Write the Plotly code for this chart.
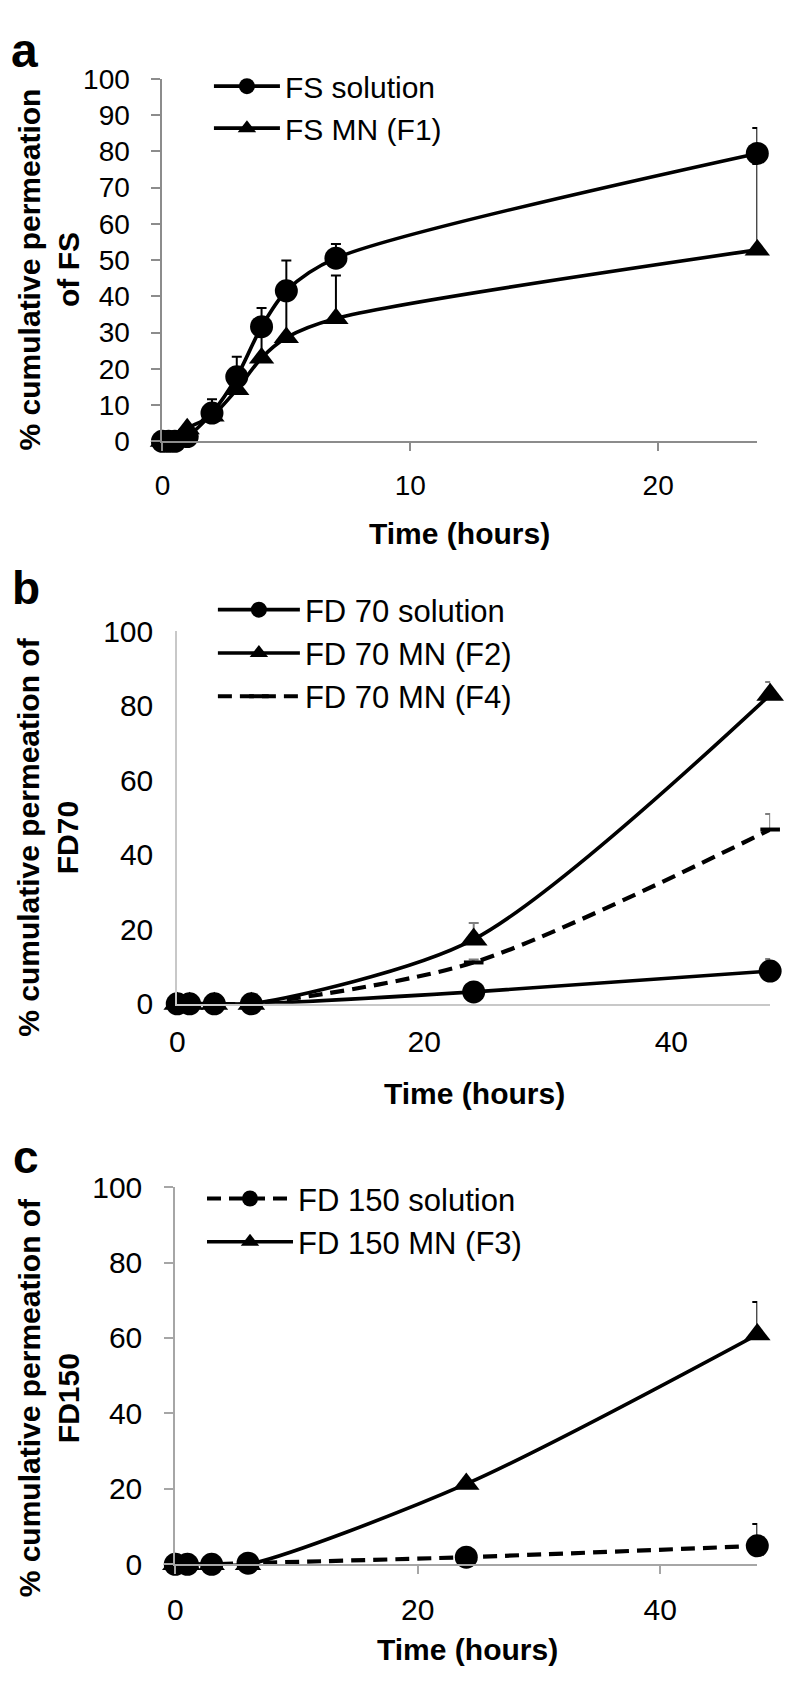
import plotly.graph_objects as go

# ---------------- data ----------------
# Panel a: FS
t_a = [0, 0.25, 0.5, 1, 2, 3, 4, 5, 7, 24]
fs_solution = [0, 0, 0, 1.3, 7.8, 17.8, 31.6, 41.5, 50.5, 79.4]
fs_solution_err = [0, 0, 0, 0, 3.8, 5.5, 5.2, 8.4, 3.9, 7.0]
fs_mn_f1 = [0, 0, 0, 3.5, 7.0, 14.3, 23.0, 28.6, 33.9, 52.8]
fs_mn_f1_err = [0, 0, 0, 0, 2.0, 4.0, 11.0, 12.0, 11.8, 23.7]

# Panel b: FD70
t_b = [0, 1, 3, 6, 24, 48]
fd70_solution = [0, 0, 0, 0, 3.2, 8.8]
fd70_solution_err = [0, 0, 0, 0, 0, 3.2]
fd70_mn_f2 = [0, 0, 0, 0, 17.3, 83.0]
fd70_mn_f2_err = [0, 0, 0, 0, 4.4, 3.4]
fd70_mn_f4 = [0, 0, 0, 0, 11.1, 46.8]
fd70_mn_f4_err = [0, 0, 0, 0, 0.8, 4.2]

# Panel c: FD150
t_c = [0, 1, 3, 6, 24, 48]
fd150_solution = [0, 0, 0, 0.3, 1.9, 4.9]
fd150_solution_err = [0, 0, 0, 0, 0, 5.8]
fd150_mn_f3 = [0, 0, 0, 0, 21.3, 60.9]
fd150_mn_f3_err = [0, 0, 0, 0, 0, 8.6]

W, H = 786, 1695
FONT = "Liberation Sans, Arial, sans-serif"
DASH = "14px,8px"


def px(x):
    return x / W


def py(y):
    return 1 - y / H


fig = go.Figure()


def add(x, y, err, name, symbol, xa, ya, legend, dash="solid", msize=23,
        errcolor="black", mline=0, lw=3.6):
    fig.add_trace(go.Scatter(
        x=x, y=y, name=name, mode="lines+markers",
        xaxis=xa, yaxis=ya, legend=legend, legendgroup=name,
        line=dict(color="black", width=lw, dash=dash, shape="spline", smoothing=0.8),
        marker=dict(symbol=symbol, size=msize, color="black",
                    line=dict(color="black", width=mline)),
        error_y=dict(type="data", array=err, arrayminus=[0] * len(err), symmetric=False,
                     color=errcolor, thickness=2, width=5),
        cliponaxis=False,
    ))


# panel a
add(t_a, fs_solution, fs_solution_err, "FS solution", "circle", "x", "y", "legend")
add(t_a, fs_mn_f1, fs_mn_f1_err, "FS MN (F1)", "triangle-up", "x", "y", "legend", msize=22)

# panel b
GRAY_ERR = "#7f7f7f"
add(t_b, fd70_solution, fd70_solution_err, "FD 70 solution", "circle", "x2", "y2", "legend2",
    errcolor=GRAY_ERR)
add(t_b, fd70_mn_f2, fd70_mn_f2_err, "FD 70 MN (F2)", "triangle-up", "x2", "y2", "legend2",
    msize=24, errcolor=GRAY_ERR)
add(t_b, fd70_mn_f4, fd70_mn_f4_err, "FD 70 MN (F4)", "line-ew", "x2", "y2", "legend2",
    dash=DASH, msize=14, mline=4, errcolor=GRAY_ERR, lw=4.2)

# panel c
add(t_c, fd150_solution, fd150_solution_err, "FD 150 solution", "circle", "x3", "y3", "legend3",
    dash=DASH, lw=4.2)
add(t_c, fd150_mn_f3, fd150_mn_f3_err, "FD 150 MN (F3)", "triangle-up", "x3", "y3", "legend3",
    msize=23)

tick_font_a = dict(family=FONT, size=28, color="black")
tick_font_bc = dict(family=FONT, size=30, color="black")


def xaxis(dom, rng, dtick, color, ticks, font, anchor):
    return dict(domain=dom, range=rng, dtick=dtick, tick0=0, showgrid=False, zeroline=False,
                showline=True, linecolor=color, linewidth=2, ticks=ticks, ticklen=8,
                tickwidth=2, tickcolor=color, tickfont=font, anchor=anchor,
                ticklabelstandoff=10)


def yaxis(dom, dtick, color, ticks, font, anchor):
    return dict(domain=dom, range=[0, 100], dtick=dtick, tick0=0, showgrid=False,
                zeroline=False, showline=True, linecolor=color, linewidth=2, ticks=ticks,
                ticklen=9, tickwidth=2, tickcolor=color, tickfont=font, anchor=anchor,
                ticklabelstandoff=16)


GRAY_A = "#8c8c8c"
GRAY_B = "#c8c8c8"
GRAY_C = "#a6a6a6"

legend_common = dict(bgcolor="rgba(0,0,0,0)", borderwidth=0, xanchor="left", yanchor="middle",
                     itemsizing="trace", traceorder="normal")

fig.update_layout(
    width=W, height=H,
    margin=dict(l=0, r=0, t=0, b=0),
    paper_bgcolor="white", plot_bgcolor="white",
    font=dict(family=FONT, color="black"),
    xaxis=xaxis([px(156), px(757)], [0, 24], 10, GRAY_A, "outside", tick_font_a, "y"),
    yaxis=yaxis([py(433), py(63)], 10, GRAY_A, "outside", tick_font_a, "x"),
    xaxis2=xaxis([px(171), px(770)], [0, 48], 20, GRAY_B, "", tick_font_bc, "y2"),
    yaxis2=yaxis([py(1007), py(627)], 20, GRAY_B, "", tick_font_bc, "x2"),
    xaxis3=xaxis([px(169), px(757)], [0, 48], 20, GRAY_C, "outside", tick_font_bc, "y3"),
    yaxis3=yaxis([py(1579), py(1194)], 20, GRAY_C, "outside", tick_font_bc, "x3"),
    legend=dict(x=px(203), y=py(92), font=dict(family=FONT, size=30, color="black"),
                itemwidth=66, **legend_common),
    legend2=dict(x=px(207), y=py(649), font=dict(family=FONT, size=31, color="black"),
                 itemwidth=82, **legend_common),
    legend3=dict(x=px(196), y=py(1228), font=dict(family=FONT, size=31, color="black"),
                 itemwidth=86, tracegroupgap=10, **legend_common),
    showlegend=True,
)

ann = []
for letter, (lx, ly), sz in [("a", (17, 34), 48), ("b", (18, 583), 46), ("c", (18, 1163), 46)]:
    ann.append(dict(text=f"<b>{letter}</b>", x=px(lx), y=py(ly), xref="paper", yref="paper",
                    showarrow=False, font=dict(family=FONT, size=sz, color="black"),
                    xanchor="center", yanchor="middle"))

for txt, (tx, ty) in [("% cumulative permeation<br>of FS", (41, 258)),
                      ("% cumulative permeation of<br>FD70", (41, 837)),
                      ("% cumulative permeation of<br>FD150", (41, 1409))]:
    ann.append(dict(text=f"<b>{txt}</b>", x=px(tx), y=py(ty), xref="paper", yref="paper",
                    showarrow=False, textangle=-90,
                    font=dict(family=FONT, size=30, color="black"),
                    xanchor="center", yanchor="middle"))

for (tx, ty) in [(456, 527), (471, 1099), (464, 1666)]:
    ann.append(dict(text="<b>Time (hours)</b>", x=px(tx), y=py(ty), xref="paper",
                    yref="paper", showarrow=False,
                    font=dict(family=FONT, size=30, color="black"),
                    xanchor="center", yanchor="middle"))

fig.update_layout(annotations=ann)

fig.write_html("out.html", config={"displayModeBar": False},
               post_script="document.body.style.margin='0px';")
